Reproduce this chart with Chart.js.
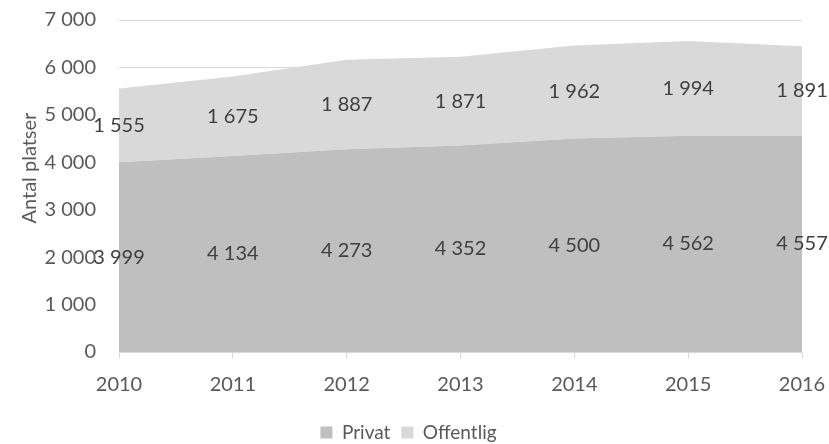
<!DOCTYPE html>
<html>
<head>
<meta charset="utf-8">
<script src="https://cdn.jsdelivr.net/npm/chart.js@4/dist/chart.umd.min.js"></script>
<style>
html, body { margin: 0; padding: 0; background: #fff; }
#wrap { width: 829px; height: 444px; }
</style>
</head>
<body>
<div id="wrap"><canvas id="chart"></canvas></div>
<script>
// years and values
var years = ['2010', '2011', '2012', '2013', '2014', '2015', '2016'];
var privat = [3999, 4134, 4273, 4352, 4500, 4562, 4557];
var offentlig = [1555, 1675, 1887, 1871, 1962, 1994, 1891];
var yTicks = [0, 1000, 2000, 3000, 4000, 5000, 6000, 7000];

function fmt(n){
	return n.toString().replace(/\B(?=(\d{3})+(?!\d))/g, ' ');
}

var fontName = 'Lato, "Open Sans", sans-serif';

// draws the value in the middle of each band
var bandLabels = {
	id: 'bandLabels',
	afterDatasetsDraw: function(chart){
		var ctx = chart.ctx;
		var ys = chart.scales.y;
		var xs = chart.scales.x;
		ctx.save();
		ctx.font = '20px ' + fontName;
		ctx.fillStyle = '#404040';
		ctx.textAlign = 'center';
		ctx.textBaseline = 'middle';
		for(var i=0; i<years.length; i++){
			var x = xs.getPixelForValue(i);
			var y1 = ys.getPixelForValue(privat[i]/2);
			ctx.fillText(fmt(privat[i]), x, y1);
			var y2 = ys.getPixelForValue(privat[i] + offentlig[i]/2);
			ctx.fillText(fmt(offentlig[i]), x, y2);
		}
		ctx.restore();
	}
};

new Chart(document.getElementById('chart'), {
	type: 'line',
	data: {
		labels: years,
		datasets: [{
			label: 'Privat',
			data: privat,
			backgroundColor: '#bfbfbf',
			borderColor: '#bfbfbf',
			borderWidth: 0,
			pointRadius: 0,
			fill: 'origin'
		},{
			label: 'Offentlig',
			data: offentlig,
			backgroundColor: '#d9d9d9',
			borderColor: '#d9d9d9',
			borderWidth: 0,
			pointRadius: 0,
			fill: '-1'
		}]
	},
	options: {
		responsive: true,
		maintainAspectRatio: false,
		animation: false,
		layout: { padding: { left: 15, right: 27, top: 20, bottom: -8 } },
		plugins: {
			tooltip: { enabled: false },
			legend: {
				position: 'bottom',
				labels: {
					font: { size: 19, family: fontName },
					color: '#595959',
					boxWidth: 12,
					boxHeight: 12,
					padding: 11
				}
			}
		},
		scales: {
			x: {
				offset: false,
				grid: {
					drawOnChartArea: false,
					drawTicks: true,
					tickLength: 6,
					color: '#d9d9d9'
				},
				border: { color: '#d9d9d9', width: 1 },
				ticks: {
					font: { size: 20, family: fontName },
					color: '#595959',
					padding: 15,
					maxRotation: 0
				},
				afterFit: function(axis){
					axis.paddingLeft = 0;
					axis.paddingRight = 0;
				}
			},
			y: {
				stacked: true,
				min: 0,
				max: 7000,
				afterBuildTicks: function(axis){
					axis.ticks = yTicks.map(function(v){ return { value: v }; });
				},
				grid: {
					color: '#d9d9d9',
					drawTicks: false
				},
				border: { display: false },
				ticks: {
					font: { size: 20, family: fontName },
					color: '#595959',
					padding: 23,
					callback: function(v){ return fmt(v); }
				},
				title: {
					display: true,
					// leading spaces push the title a bit upwards, as in the original
					text: '       Antal platser',
					font: { size: 20, family: fontName },
					color: '#595959',
					padding: 3
				},
				afterFit: function(axis){
					axis.width = 104;
					axis.paddingTop = 0;
					axis.paddingBottom = 0;
				}
			}
		}
	},
	plugins: [bandLabels]
});
</script>
</body>
</html>
